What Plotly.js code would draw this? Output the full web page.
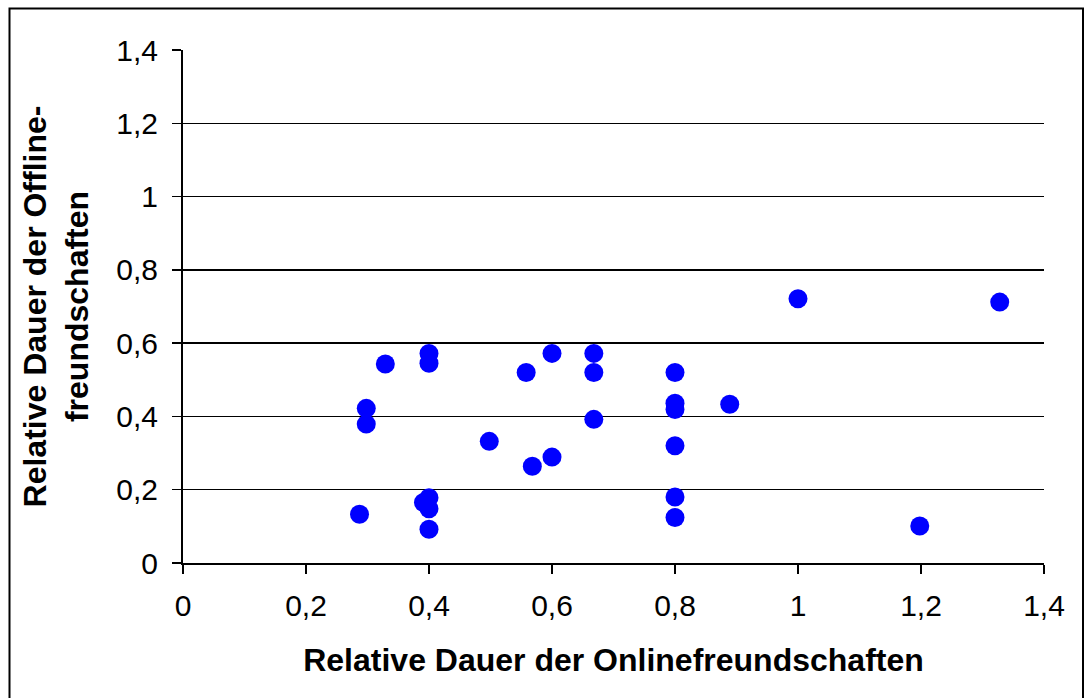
<!DOCTYPE html>
<html>
<head>
<meta charset="utf-8">
<script src="https://cdn.plot.ly/plotly-3.0.1.min.js"></script>
<style>
  html, body { margin: 0; padding: 0; background: #fff; }
  #chart { width: 1089px; height: 698px; }
</style>
</head>
<body>
<div id="chart"></div>
<script>
// Relative Dauer der Onlinefreundschaften (x) vs. Offlinefreundschaften (y)
const onlineDauer = [
  0.287, 0.298, 0.298, 0.329, 0.391, 0.40, 0.40, 0.40, 0.40, 0.40,
  0.498, 0.558, 0.568, 0.60, 0.60, 0.668, 0.668, 0.668,
  0.80, 0.80, 0.80, 0.80, 0.80, 0.80, 0.889, 1.0, 1.198, 1.328
];
const offlineDauer = [
  0.133, 0.422, 0.379, 0.543, 0.165, 0.178, 0.148, 0.092, 0.572, 0.545,
  0.332, 0.520, 0.264, 0.572, 0.289, 0.572, 0.520, 0.392,
  0.520, 0.436, 0.419, 0.320, 0.180, 0.124, 0.433, 0.721, 0.101, 0.712
];
const tickVals = [0, 0.2, 0.4, 0.6, 0.8, 1, 1.2, 1.4];
const tickLabels = ["0", "0,2", "0,4", "0,6", "0,8", "1", "1,2", "1,4"];
const xTitle = "Relative Dauer der Onlinefreundschaften";
const yTitle = "Relative Dauer der Offline-<br>freundschaften";

const FONT = "Arial, 'Liberation Sans', sans-serif";

const trace = {
  type: "scatter",
  mode: "markers",
  x: onlineDauer,
  y: offlineDauer,
  marker: { color: "#0000FF", size: 19, line: { width: 0 } },
  hoverinfo: "x+y",
  showlegend: false
};

// plot area: x 183..1044, y 50..563
const L = 183, R = 1089 - 1044, T = 50, B = 698 - 563;
const pw = 1089 - L - R, ph = 698 - T - B;
const px = v => (v - L) / pw;
const py = v => (698 - B - v) / ph;

const layout = {
  width: 1089,
  height: 698,
  margin: { l: L, r: R, t: T, b: B, pad: 0 },
  paper_bgcolor: "#ffffff",
  plot_bgcolor: "#ffffff",
  font: { family: FONT, size: 30, color: "#000000" },
  xaxis: {
    range: [0, 1.4],
    tickvals: tickVals,
    ticktext: tickLabels,
    ticks: "outside",
    ticklen: 9,
    tickwidth: 1.5,
    tickcolor: "#000",
    ticklabelstandoff: 6,
    showline: true,
    linecolor: "#000",
    linewidth: 2,
    showgrid: false,
    zeroline: false,
    tickfont: { family: FONT, size: 30 },
    title: { text: "<b>" + xTitle + "</b>", font: { family: FONT, size: 32 }, standoff: 28 },
    fixedrange: true
  },
  yaxis: {
    range: [0, 1.4],
    tickvals: tickVals,
    ticktext: tickLabels,
    ticks: "outside",
    ticklen: 9,
    tickwidth: 1.5,
    tickcolor: "#000",
    ticklabelstandoff: 8,
    showline: true,
    linecolor: "#000",
    linewidth: 2,
    showgrid: true,
    gridcolor: "#000",
    gridwidth: 1.5,
    zeroline: false,
    tickfont: { family: FONT, size: 30 },
    title: { text: "<b>" + yTitle + "</b>", font: { family: FONT, size: 32 }, standoff: 18 },
    fixedrange: true
  },
  shapes: [{
    type: "rect", xref: "paper", yref: "paper", layer: "above",
    x0: px(9.5), x1: px(1083), y0: py(710), y1: py(8.5),
    line: { color: "#000", width: 2 }, fillcolor: "rgba(0,0,0,0)"
  }]
};

Plotly.newPlot("chart", [trace], layout, { displayModeBar: false, staticPlot: true });
</script>
</body>
</html>
